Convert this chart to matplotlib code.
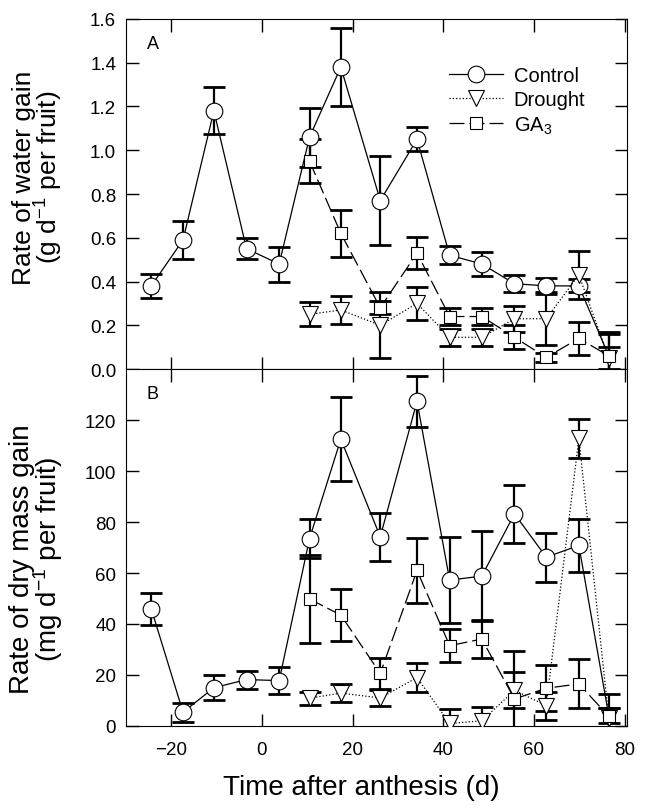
import numpy as np
import matplotlib
matplotlib.use('Agg')
import matplotlib.pyplot as plt

plt.rcParams['font.family'] = ['Liberation Sans', 'DejaVu Sans']
plt.rcParams['mathtext.fontset'] = 'custom'
plt.rcParams['mathtext.rm'] = 'Liberation Sans'
plt.rcParams['mathtext.it'] = 'Liberation Sans:italic'

# days after anthesis
days = [-24.4, -17.4, -10.6, -3.4, 3.8, 10.5, 17.4, 26.1, 34.2, 41.4, 48.5,
        55.7, 62.7, 69.9, 76.5]
days_trt = days[5:]

# A: rate of water gain (g d-1 per fruit)
control_water = [0.38, 0.59, 1.18, 0.55, 0.48, 1.06, 1.38, 0.77, 1.05, 0.52,
                 0.48, 0.39, 0.38, 0.38, 0.06]
control_water_se = [0.055, 0.085, 0.107, 0.048, 0.08, 0.135, 0.18, 0.205,
                    0.055, 0.042, 0.055, 0.04, 0.035, 0.03, 0.11]
drought_water = [0.25, 0.27, 0.20, 0.30, 0.145, 0.145, 0.23, 0.23, 0.43, 0.05]
drought_water_se = [0.055, 0.062, 0.15, 0.075, 0.04, 0.04, 0.06, 0.12, 0.11,
                    0.05]
ga3_water = [0.95, 0.62, 0.28, 0.53, 0.24, 0.24, 0.145, 0.053, 0.14, 0.06]
ga3_water_se = [0.1, 0.108, 0.03, 0.075, 0.04, 0.04, 0.055, 0.02, 0.075, 0.1]

# B: rate of dry mass gain (mg d-1 per fruit)
control_dry = [45.9, 5.4, 15.0, 18.2, 17.8, 73.5, 112.5, 74.2, 127.3, 57.2,
               58.8, 83.2, 66.2, 70.8, 4.0]
control_dry_se = [6.3, 3.8, 4.9, 3.5, 5.4, 7.5, 16.5, 9.5, 10.0, 17.0, 17.8,
                  11.3, 9.6, 10.5, 3.0]
drought_dry = [10.9, 12.9, 11.0, 19.0, 1.0, 2.0, 14.0, 8.0, 112.8, 3.0]
drought_dry_se = [2.6, 3.6, 3.2, 5.7, 5.7, 5.3, 7.0, 5.5, 7.5, 4.0]
ga3_dry = [49.8, 43.5, 20.6, 61.0, 31.5, 34.1, 10.6, 14.8, 16.5, 3.8]
ga3_dry_se = [17.2, 10.1, 6.0, 12.7, 6.5, 7.4, 19.0, 9.0, 9.6, 8.7]


def draw_series(ax, x, y, err, marker, ms, ls, label, markevery=None):
    ax.errorbar(x, y, yerr=err, fmt='none', ecolor='black', elinewidth=1.6,
                capsize=8, capthick=2.0, zorder=2)
    ax.plot(x, y, color='black', linestyle=ls, linewidth=0.9, marker=marker,
            markersize=ms, markerfacecolor='white', markeredgecolor='black',
            markeredgewidth=0.8, label=label, markevery=markevery, zorder=4)


def style_axes(ax):
    ax.tick_params(which='both', direction='in', length=9, width=1.0,
                   top=True, right=True, labelsize=13.5)
    ax.tick_params(axis='y', pad=7)
    ax.tick_params(axis='x', pad=11)
    for sp in ax.spines.values():
        sp.set_linewidth(0.8)
    ax.set_xlim(-30, 80.5)
    ax.set_xticks([-20, 0, 20, 40, 60, 80])


fig = plt.figure(figsize=(6.49, 8.12), dpi=100)
axa = fig.add_axes([0.194, 0.5443, 0.772, 0.4311])
axb = fig.add_axes([0.194, 0.1047, 0.772, 0.4396])

dash = (0, (12, 4))
# last control marker is hidden under the GA3 square in the original
ctrl_marks = list(range(len(days) - 1))

# Panel A
draw_series(axa, days, control_water, control_water_se, 'o', 12, '-',
            'Control', ctrl_marks)
draw_series(axa, days_trt, drought_water, drought_water_se, 'v', 12, ':',
            'Drought')
draw_series(axa, days_trt, ga3_water, ga3_water_se, 's', 9, dash,
            'GA$_3$')
style_axes(axa)
axa.set_ylim(0, 1.6)
axa.set_yticks(np.arange(0, 1.61, 0.2))
axa.set_yticklabels([f'{v:.1f}' for v in np.arange(0, 1.61, 0.2)])
axa.tick_params(axis='x', labelbottom=False)
axa.set_ylabel('Rate of water gain\n(g d$^{-1}$ per fruit)', fontsize=19,
               linespacing=0.85)
axa.yaxis.set_label_coords(-0.122, 0.55)
axa.text(0.042, 0.955, 'A', transform=axa.transAxes, fontsize=13,
         va='top', ha='left')
axa.legend(loc='upper left', bbox_to_anchor=(0.645, 0.865), frameon=False,
           fontsize=14.5, handlelength=2.7, handletextpad=0.5,
           labelspacing=0.25, borderpad=0, borderaxespad=0)

# Panel B
draw_series(axb, days, control_dry, control_dry_se, 'o', 12, '-', 'Control',
            ctrl_marks)
draw_series(axb, days_trt, drought_dry, drought_dry_se, 'v', 12, ':',
            'Drought')
draw_series(axb, days_trt, ga3_dry, ga3_dry_se, 's', 9, dash, 'GA$_3$')
style_axes(axb)
axb.set_ylim(0, 140)
axb.set_yticks(np.arange(0, 121, 20))
axb.set_ylabel('Rate of dry mass gain\n(mg d$^{-1}$ per fruit)', fontsize=20,
               linespacing=0.85)
axb.yaxis.set_label_coords(-0.122, 0.47)
axb.set_xlabel('Time after anthesis (d)', fontsize=20)
axb.xaxis.set_label_coords(0.47, -0.135)
axb.text(0.042, 0.955, 'B', transform=axb.transAxes, fontsize=13,
         va='top', ha='left')

fig.savefig('out.png', dpi=100)
